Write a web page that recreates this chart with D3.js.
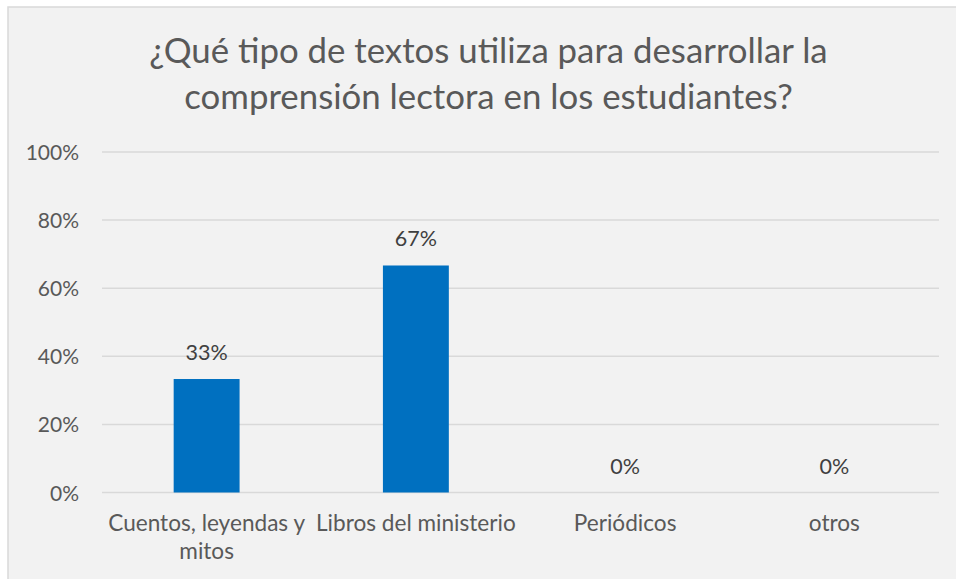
<!DOCTYPE html>
<html>
<head>
<meta charset="utf-8">
<script src="https://cdn.jsdelivr.net/npm/d3@7"></script>
<style>
  body { margin: 0; background: #fff; }
  text { font-family: Lato, "Open Sans", sans-serif; }
</style>
</head>
<body>
<div id="chart"></div>
<script>
var titleLines = ['¿Qué tipo de textos utiliza para desarrollar la', 'comprensión lectora en los estudiantes?']
var categories = [['Cuentos, leyendas y', 'mitos'], ['Libros del ministerio'], ['Periódicos'], ['otros']]
var values = [0.3333, 0.6667, 0, 0]
var yTicks = [0, 0.2, 0.4, 0.6, 0.8, 1]

var width = 956, height = 579
var margin = {left: 102, right: 17, top: 152, bottom: 86.5}

var svg = d3.select('#chart').append('svg')
  .attr('width', width)
  .attr('height', height)

// chart area background + border
svg.append('rect')
  .attr('x', 8).attr('y', 7)
  .attr('width', width).attr('height', height)
  .attr('fill', '#f2f2f2')
  .attr('stroke', '#d9d9d9')
  .attr('stroke-width', 1.5)

var x = d3.scaleBand()
  .domain(d3.range(categories.length))
  .range([margin.left, width - margin.right])
  .paddingInner(0.685)
  .paddingOuter(0.3425)

var y = d3.scaleLinear()
  .domain([0, 1])
  .range([height - margin.bottom, margin.top])

var pct = d3.format('.0%')

// title
svg.append('g').selectAll('text')
  .data(titleLines)
  .join('text')
  .attr('x', 488.5)
  .attr('y', function(d, i) { return 63 + i * 46 })
  .attr('text-anchor', 'middle')
  .attr('fill', '#595959')
  .style('font-size', '34.8px')
  .text(function(d) { return d })

// gridlines
svg.append('g').selectAll('line')
  .data(yTicks)
  .join('line')
  .attr('x1', margin.left)
  .attr('x2', width - margin.right)
  .attr('y1', function(d) { return y(d) })
  .attr('y2', function(d) { return y(d) })
  .attr('stroke', '#d9d9d9')
  .attr('stroke-width', 1.5)

// y axis labels
var yAxis = d3.axisLeft(y).tickValues(yTicks).tickFormat(pct).tickSize(0).tickPadding(23)
var yg = svg.append('g')
  .attr('transform', 'translate(' + margin.left + ',0)')
  .call(yAxis)
yg.select('.domain').remove()
yg.selectAll('text')
  .attr('fill', '#595959')
  .attr('dy', '0.36em')
  .style('font-size', '21px')
  .style('font-family', 'Lato, sans-serif')

// bars
svg.append('g').selectAll('rect')
  .data(values)
  .join('rect')
  .attr('x', function(d, i) { return x(i) })
  .attr('y', function(d) { return y(d) })
  .attr('width', x.bandwidth())
  .attr('height', function(d) { return y(0) - y(d) })
  .attr('fill', '#0070c0')

// data labels
svg.append('g').selectAll('text')
  .data(values)
  .join('text')
  .attr('x', function(d, i) { return x(i) + x.bandwidth() / 2 })
  .attr('y', function(d) { return y(d) - 19 })
  .attr('text-anchor', 'middle')
  .attr('fill', '#404040')
  .style('font-size', '21.5px')
  .text(function(d) { return pct(d) })

// category labels
var catSel = svg.append('g').selectAll('text')
  .data(categories)
  .join('text')
  .attr('text-anchor', 'middle')
  .attr('fill', '#595959')
  .style('font-size', '22.6px')

catSel.selectAll('tspan')
  .data(function(d, i) { return d.map(function(t) { return {t: t, i: i} }) })
  .join('tspan')
  .attr('x', function(d) { return x(d.i) + x.bandwidth() / 2 })
  .attr('y', function(d, j) { return y(0) + 38.5 + j * 28 })
  .text(function(d) { return d.t })
</script>
</body>
</html>
